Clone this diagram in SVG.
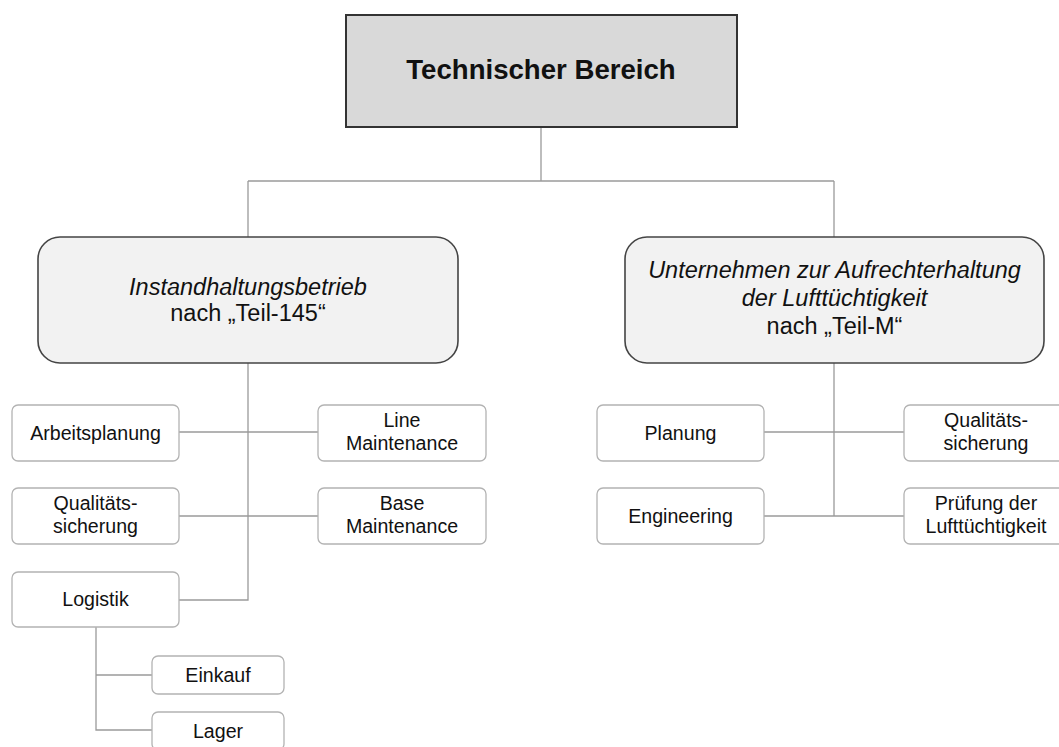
<svg xmlns="http://www.w3.org/2000/svg" width="1059" height="747" viewBox="0 0 1059 747">
<style>
text{font-family:"Liberation Sans",Arial,sans-serif;fill:#111;text-anchor:middle}
.t{font-size:27.6px;font-weight:bold}
.m{font-size:23.5px}
.s{font-size:19.6px}
.i{font-style:italic}
.top{fill:#d9d9d9;stroke:#333;stroke-width:2}
.mid{fill:#f2f2f2;stroke:#444;stroke-width:1.6}
.sm{fill:#fff;stroke:#b3b3b3;stroke-width:1.3}
.c{fill:none;stroke:#9a9a9a;stroke-width:1.3}
</style>
<rect width="1059" height="747" fill="#fff"/>
<g id="connectors">
<path class="c" d="M541 127V181M248 181H834M248 181V237M834 181V237"/>
<path class="c" d="M248 363V600H179M179 432H318M179 516H318"/>
<path class="c" d="M96 627V730H152M96 675H152"/>
<path class="c" d="M834 363V516M764 432H904M764 516H904"/>
</g>
<g id="n-top"><rect class="top" x="346" y="15" width="391" height="112"/><text class="t" x="541" y="79">Technischer Bereich</text></g>
<g id="n-145"><rect class="mid" x="38" y="237" width="420" height="126" rx="22"/><text class="m i" x="248" y="295">Instandhaltungsbetrieb</text><text class="m" x="248" y="321">nach „Teil-145“</text></g>
<g id="n-m"><rect class="mid" x="625" y="237" width="419" height="126" rx="22"/><text class="m i" x="834.5" y="278">Unternehmen zur Aufrechterhaltung</text><text class="m i" x="834.5" y="306">der Lufttüchtigkeit</text><text class="m" x="834.5" y="334">nach „Teil-M“</text></g>
<g id="n-arb"><rect class="sm" x="12" y="405" width="167" height="56" rx="6"/><text class="s" x="95.5" y="440">Arbeitsplanung</text></g>
<g id="n-qs1"><rect class="sm" x="12" y="488" width="167" height="56" rx="6"/><text class="s" x="95.5" y="510">Qualitäts-</text><text class="s" x="95.5" y="533">sicherung</text></g>
<g id="n-log"><rect class="sm" x="12" y="572" width="167" height="55" rx="6"/><text class="s" x="95.5" y="606">Logistik</text></g>
<g id="n-line"><rect class="sm" x="318" y="405" width="168" height="56" rx="6"/><text class="s" x="402" y="427">Line</text><text class="s" x="402" y="450">Maintenance</text></g>
<g id="n-base"><rect class="sm" x="318" y="488" width="168" height="56" rx="6"/><text class="s" x="402" y="510">Base</text><text class="s" x="402" y="533">Maintenance</text></g>
<g id="n-ein"><rect class="sm" x="152" y="656" width="132" height="38" rx="6"/><text class="s" x="218" y="682">Einkauf</text></g>
<g id="n-lag"><rect class="sm" x="152" y="712" width="132" height="38" rx="6"/><text class="s" x="218" y="738">Lager</text></g>
<g id="n-plan"><rect class="sm" x="597" y="405" width="167" height="56" rx="6"/><text class="s" x="680.5" y="440">Planung</text></g>
<g id="n-eng"><rect class="sm" x="597" y="488" width="167" height="56" rx="6"/><text class="s" x="680.5" y="523">Engineering</text></g>
<g id="n-qs2"><rect class="sm" x="904" y="405" width="167" height="56" rx="6"/><text class="s" x="986" y="427">Qualitäts-</text><text class="s" x="986" y="450">sicherung</text></g>
<g id="n-pruef"><rect class="sm" x="904" y="488" width="167" height="56" rx="6"/><text class="s" x="986" y="510">Prüfung der</text><text class="s" x="986" y="533">Lufttüchtigkeit</text></g>
</svg>
